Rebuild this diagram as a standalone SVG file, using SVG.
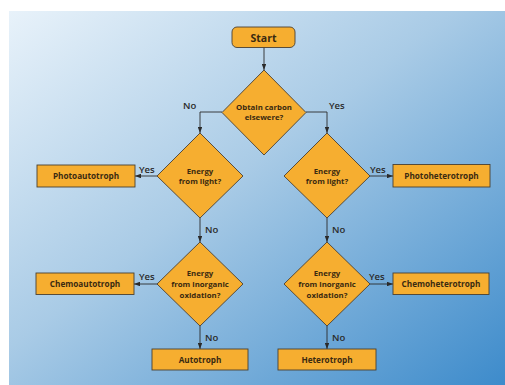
<svg xmlns="http://www.w3.org/2000/svg" width="505" height="385" viewBox="0 0 505 385">
<defs>
<linearGradient id="bg" x1="0" y1="0" x2="1" y2="1">
<stop offset="0" stop-color="#e8f2fa"/>
<stop offset="0.45" stop-color="#a9cbe6"/>
<stop offset="1" stop-color="#3d8bcb"/>
</linearGradient>
<marker id="ah" viewBox="0 0 8 6" refX="8" refY="3" markerWidth="6" markerHeight="4.5" orient="auto" markerUnits="userSpaceOnUse">
<path d="M0,0 L8,3 L0,6 z" fill="#2b2b2b"/>
</marker>
</defs>
<style>
.n{fill:#f6ae30;stroke:#4a4032;stroke-width:0.9}
.t{font-family:"Open Sans","Liberation Sans",sans-serif;font-weight:bold;font-size:7.8px;fill:#3a2a10;text-anchor:middle}
.b{font-size:8.2px}
.l{font-family:"Open Sans","Liberation Sans",sans-serif;font-weight:600;font-size:9.5px;fill:#2a2a2a}
.c{fill:none;stroke:#2b2b2b;stroke-width:0.9;marker-end:url(#ah)}
</style>
<rect x="9" y="11" width="496" height="374" fill="url(#bg)"/>
<g id="connectors">
<path class="c" d="M264,47 V70"/>
<path class="c" d="M222,112 H200 V133"/>
<path class="c" d="M306,112 H327 V133"/>
<path class="c" d="M158,176 H135"/>
<path class="c" d="M370,176 H393"/>
<path class="c" d="M200,218 V242"/>
<path class="c" d="M327,218 V242"/>
<path class="c" d="M158,284 H134"/>
<path class="c" d="M370,284 H393"/>
<path class="c" d="M200,326 V349"/>
<path class="c" d="M327,326 V349"/>
<text class="l" x="183" y="109">No</text>
<text class="l" x="329" y="109">Yes</text>
<text class="l" x="139" y="173">Yes</text>
<text class="l" x="370" y="173">Yes</text>
<text class="l" x="205" y="233">No</text>
<text class="l" x="332" y="233">No</text>
<text class="l" x="139" y="280">Yes</text>
<text class="l" x="369" y="280">Yes</text>
<text class="l" x="205" y="341">No</text>
<text class="l" x="332" y="341">No</text>
</g>
<g id="start">
<rect class="n" x="232" y="27" width="63" height="20.5" rx="5"/>
<text class="t" x="263.5" y="41.5" style="font-size:10.5px">Start</text>
</g>
<g id="q-carbon">
<polygon class="n" points="264,70 306,112.5 264,155 222,112.5"/>
<text class="t" x="264" y="110">Obtain carbon</text>
<text class="t" x="264" y="120">elsewere?</text>
</g>
<g id="q-light-left">
<polygon class="n" points="200,133 243,176 200,218 157,176"/>
<text class="t" x="200" y="174">Energy</text>
<text class="t" x="200" y="184">from light?</text>
</g>
<g id="q-light-right">
<polygon class="n" points="327,133 370,176 327,218 284,176"/>
<text class="t" x="327" y="174">Energy</text>
<text class="t" x="327" y="184">from light?</text>
</g>
<g id="q-inorg-left">
<polygon class="n" points="200,242 243,284 200,326 157,284"/>
<text class="t" x="200" y="276">Energy</text>
<text class="t" x="200" y="287">from inorganic</text>
<text class="t" x="200" y="298">oxidation?</text>
</g>
<g id="q-inorg-right">
<polygon class="n" points="327,242 370,284 327,326 284,284"/>
<text class="t" x="327" y="276">Energy</text>
<text class="t" x="327" y="287">from inorganic</text>
<text class="t" x="327" y="298">oxidation?</text>
</g>
<g id="photoautotroph">
<rect class="n" x="37" y="165" width="98" height="22"/>
<text class="t b" x="86" y="179">Photoautotroph</text>
</g>
<g id="photoheterotroph">
<rect class="n" x="393" y="164.5" width="97" height="22.5"/>
<text class="t b" x="441.5" y="179">Photoheterotroph</text>
</g>
<g id="chemoautotroph">
<rect class="n" x="36" y="273" width="98" height="21.5"/>
<text class="t b" x="85" y="287">Chemoautotroph</text>
</g>
<g id="chemoheterotroph">
<rect class="n" x="393" y="273" width="96" height="21.5"/>
<text class="t b" x="441" y="287">Chemoheterotroph</text>
</g>
<g id="autotroph">
<rect class="n" x="152" y="349" width="96" height="21"/>
<text class="t b" x="200" y="362.5">Autotroph</text>
</g>
<g id="heterotroph">
<rect class="n" x="278" y="349" width="98" height="21"/>
<text class="t b" x="327" y="362.5">Heterotroph</text>
</g>
</svg>
